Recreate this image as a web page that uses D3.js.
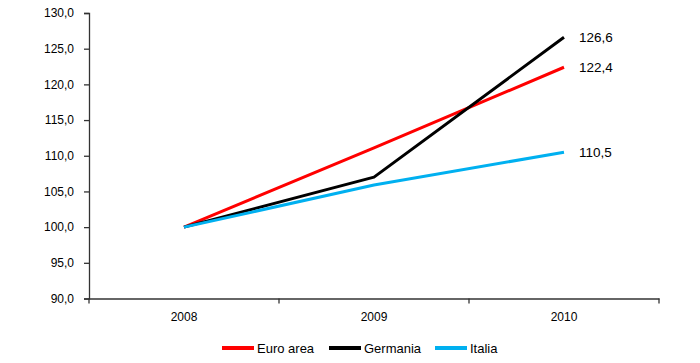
<!DOCTYPE html>
<html><head><meta charset="utf-8">
<script src="https://cdn.jsdelivr.net/npm/d3@7"></script>
<style>body{margin:0;background:#fff;}svg{display:block;font-family:"Liberation Sans",Arial,sans-serif;}</style>
</head><body>
<svg id="c" width="700" height="363"></svg>
<script>
const years = ["2008", "2009", "2010"];
const seriesNames = ["Euro area", "Germania", "Italia"];
const seriesColors = ["#FF0000", "#000000", "#00B0F0"];
const euroArea = [100.0, 111.1, 122.4];
const germania = [100.0, 107.0, 126.6];
const italia = [100.0, 105.9, 110.5];
const yTicks = [90, 95, 100, 105, 110, 115, 120, 125, 130];

const series = [euroArea, germania, italia];
const svg = d3.select("#c");
const x = d3.scaleBand().domain(years).range([89, 659]);
const y = d3.scaleLinear().domain([90, 130]).range([298.5, 13]);
const fmt = v => d3.format(".1f")(v).replace(".", ",");

const yAxis = svg.append("g").attr("transform", "translate(89,0)")
  .call(d3.axisLeft(y).tickValues(yTicks).tickSize(5).tickPadding(10).tickFormat(fmt));
const xAxis = svg.append("g").attr("transform", "translate(0,298.5)")
  .call(d3.axisBottom(x).tickSize(0).tickPadding(14));
// category boundary ticks
const bounds = [89].concat(years.map(d => x(d) + x.bandwidth()));
xAxis.selectAll(".bt").data(bounds).enter().append("line")
  .attr("x1", d => d).attr("x2", d => d).attr("y1", 0).attr("y2", 5)
  .attr("stroke", "#333").attr("stroke-width", 1.3);
[yAxis, xAxis].forEach(a => {
  a.select(".domain").attr("stroke", "#333").attr("stroke-width", 1.3);
  a.selectAll(".tick line").attr("stroke", "#333").attr("stroke-width", 1.3);
  a.selectAll("text").attr("font-size", 12).attr("fill", "#000").style("font-family", "Liberation Sans, Arial, sans-serif");
});

const cx = d => x(d) + x.bandwidth() / 2;
const line = d3.line().x((d, i) => cx(years[i])).y(d => y(d));
series.forEach((s, k) => {
  svg.append("path").attr("d", line(s)).attr("fill", "none")
    .attr("stroke", seriesColors[k]).attr("stroke-width", 3).attr("stroke-linejoin", "round");
  svg.append("text").attr("x", cx(years[2]) + 15).attr("y", y(s[2])).attr("dy", "0.35em")
    .attr("font-size", 13.5).text(fmt(s[2]));
});

// legend
const legX = [222, 329, 435];
seriesNames.forEach((n, k) => {
  svg.append("line").attr("x1", legX[k]).attr("x2", legX[k] + 32).attr("y1", 348).attr("y2", 348)
    .attr("stroke", seriesColors[k]).attr("stroke-width", 4);
  svg.append("text").attr("x", legX[k] + 35).attr("y", 348).attr("dy", "0.35em")
    .attr("font-size", 13).text(n);
});
</script>
</body></html>
